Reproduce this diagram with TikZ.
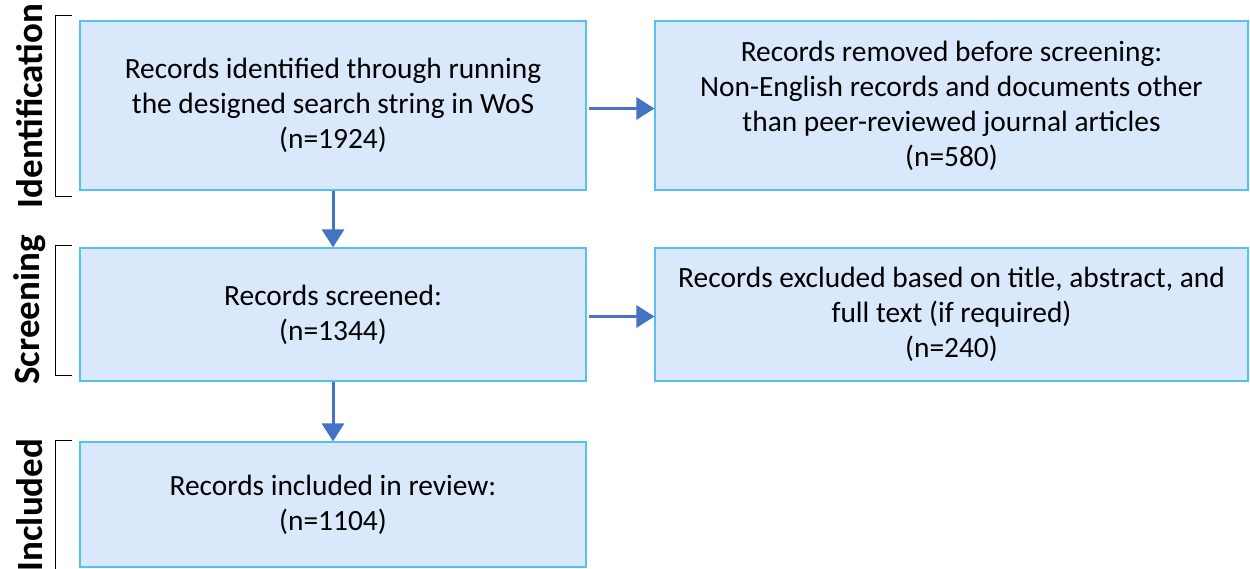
\documentclass[tikz,border=0pt]{standalone}
\usepackage{fontspec}
\setmainfont{Carlito}
\usetikzlibrary{arrows.meta}
\definecolor{boxfill}{RGB}{218,232,252}
\definecolor{boxline}{RGB}{86,192,240}
\definecolor{arrowc}{RGB}{68,114,196}
\begin{document}
\begin{tikzpicture}[x=1pt,y=-1pt,
  stagebox/.style={draw=boxline,line width=1.2pt,fill=boxfill,align=center,font=\fontsize{29.4}{35}\selectfont,inner sep=0pt},
  flow/.style={draw=arrowc,line width=3pt,-{Triangle[length=18pt,width=22pt]}},
  brack/.style={draw=black,line width=1pt},
  phase/.style={rotate=90,font=\fontsize{37}{42}\selectfont\bfseries,anchor=center}]
\useasboundingbox (0,0) rectangle (1250,569);
\node[stagebox,minimum width=506pt,minimum height=169pt] (id) at (333,105.5) {Records identified through running\\the designed search string in WoS\\(n=1924)};
\node[stagebox,minimum width=593pt,minimum height=169pt] (rm) at (951.5,105.5) {Records removed before screening:\\Non-English records and documents other\\than peer-reviewed journal articles\\(n=580)};
\node[stagebox,minimum width=506pt,minimum height=133pt] (sc) at (333,314.5) {Records screened:\\(n=1344)};
\node[stagebox,minimum width=593pt,minimum height=133pt] (ex) at (951.5,314.5) {Records excluded based on title, abstract, and\\full text (if required)\\(n=240)};
\node[stagebox,minimum width=506pt,minimum height=125pt] (in) at (333,504.5) {Records included in review:\\(n=1104)};
\draw[flow] ([yshift=-3pt]id.east) ++(2,0) coordinate (a1) -- (a1 -| rm.west);
\draw[flow] (id.south) -- (sc.north);
\draw[flow] ([yshift=-2pt]sc.east) ++(2,0) coordinate (a2) -- (a2 -| ex.west);
\draw[flow] (sc.south) -- (in.north);
\draw[brack] (72,16) -- (55,16) -- (55,197) -- (72,197);
\draw[brack] (72,246) -- (55,246) -- (55,375) -- (72,375);
\draw[brack] (72,440) -- (55,440) -- (55,580) -- (72,580);
\node[phase] (l1) at (30,106) {Identification};
\node[phase] (l2) at (30,310) {Screening};
\node[phase] (l3) at (30,505) {Included};
\end{tikzpicture}
\end{document}
